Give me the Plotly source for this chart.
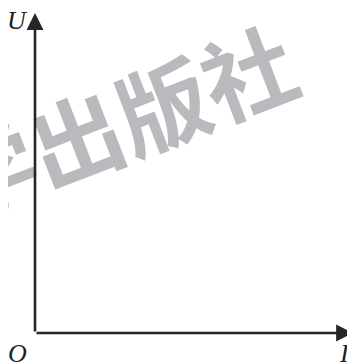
import plotly.graph_objects as go

# the page body has an 8px margin, so the figure is 8px smaller than the window
W, H = 347, 355

# axis geometry (figure units, y measured from bottom)
origin = (27, 30)
x_tip = (345, 30)
y_tip = (27, 350)

# axis labels
label_text = ["U", "O", "I"]
label_x = [9, 9, 336]
label_y = [343, 10, 10]

# watermark
wm_text = "学出版社"
wm_pos = (110, 245)

AXIS_COL = "#262626"

fig = go.Figure()

# invisible trace so the axes exist
fig.add_trace(go.Scatter(x=[origin[0]], y=[origin[1]], mode="markers",
                         marker=dict(size=1, opacity=0), hoverinfo="skip", showlegend=False))

annotations = []

# watermark first so the axes are drawn over it
annotations.append(dict(
    x=wm_pos[0], y=wm_pos[1], xref="x", yref="y", text=wm_text, showarrow=False,
    textangle=-21, font=dict(family="Noto Sans CJK SC", size=92, color="#b9babe", weight=700),
    xanchor="center", yanchor="middle",
))

# axes arrows
for tip in (x_tip, y_tip):
    annotations.append(dict(
        x=tip[0], y=tip[1], ax=origin[0], ay=origin[1],
        xref="x", yref="y", axref="x", ayref="y",
        showarrow=True, arrowhead=2, arrowsize=1.3, arrowwidth=2.6,
        arrowcolor=AXIS_COL, text="",
    ))

for t, lx, ly in zip(label_text, label_x, label_y):
    annotations.append(dict(
        x=lx, y=ly, xref="x", yref="y", text="<i>" + t + "</i>", showarrow=False,
        font=dict(family="Liberation Serif", size=26, color="#231f20"),
        xanchor="center", yanchor="middle",
    ))

fig.update_layout(
    width=W, height=H,
    margin=dict(l=0, r=0, t=0, b=0),
    paper_bgcolor="white", plot_bgcolor="white",
    xaxis=dict(range=[0, W], visible=False, fixedrange=True),
    yaxis=dict(range=[0, H], visible=False, fixedrange=True),
    annotations=annotations,
    showlegend=False,
)

fig.write_html("out.html")
